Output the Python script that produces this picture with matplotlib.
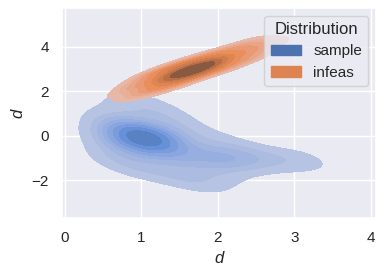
import matplotlib
matplotlib.use("Agg")
import matplotlib.pyplot as plt
import pandas as pd
import seaborn as sns

# points, one list per group
SAMPLE_X = [0.8, 0.9, 1.0, 1.1, 1.2, 1.3, 0.8, 0.9, 1.0, 1.1, 1.2, 1.3,
            0.8, 0.9, 1.0, 1.1, 1.2, 1.3, 0.9, 1.1, 1.0, 1.0, 1.05, 0.95,
            0.95, 1.05, 1.0, 1.1,
            0.6, 0.7, 0.9, 1.1, 0.8, 1.2, 1.4, 0.6, 1.5,
            0.55, 0.6, 0.7, 0.8, 0.9, 1.2, 1.3, 1.1,
            1.5, 1.6, 1.7, 1.8, 1.9, 2.0, 2.1, 2.15, 2.2, 2.3, 2.4, 2.6, 2.8, 3.0, 3.15,
            1.6, 1.9, 1.4, 1.7, 1.8, 2.1, 1.9, 2.3]
SAMPLE_Y = [-0.45, -0.45, -0.45, -0.45, -0.45, -0.45, -0.15, -0.15, -0.15, -0.15, -0.15, -0.15,
            0.15, 0.15, 0.15, 0.15, 0.15, 0.15, 0.35, 0.35, -0.6, 0.0, -0.1, 0.05,
            -0.2, 0.0, -0.3, -0.05,
            0.8, 1.3, 1.6, 1.4, 0.6, 0.8, 0.9, 0.3, 0.4,
            -0.2, -0.8, -1.2, -0.9, -1.5, -1.7, -0.8, -1.0,
            -1.0, -1.3, -0.8, -1.1, -0.9, -1.2, -1.0, -0.95, -1.05, -0.8, -1.2, -1.0, -1.2, -1.0, -1.1,
            -2.0, -1.9, -1.6, -0.4, -2.2, -1.7, 0.0, -0.5]
INFEAS_X = [1.0, 1.0, 1.15, 1.15, 1.3, 1.3, 1.3, 1.45, 1.45, 1.45, 1.55, 1.55,
            1.65, 1.65, 1.65, 1.75, 1.75, 1.85, 1.85, 1.85, 2.0, 2.0, 2.15, 2.15,
            2.3, 2.3, 2.45, 2.45, 2.6, 0.9,
            1.5, 1.6, 1.7, 1.8, 1.9, 1.55, 1.75]
INFEAS_Y = [1.94, 2.44, 2.2, 2.8, 2.12, 2.57, 2.92, 2.43, 2.83, 3.18, 2.69, 3.09,
            2.55, 2.95, 3.35, 2.86, 3.21, 2.82, 3.22, 3.57, 3.09, 3.64, 3.1, 3.6,
            3.57, 4.07, 3.53, 4.03, 4.0, 2.15,
            2.8, 2.9, 3.0, 3.1, 3.2, 2.85, 3.0]
GROUPS = ["sample", "infeas"]

sns.set_theme()
plt.rcParams["font.family"] = ["Liberation Sans", "DejaVu Sans"]

df = pd.DataFrame({
    "x": SAMPLE_X + INFEAS_X,
    "y": SAMPLE_Y + INFEAS_Y,
    "Distribution": [GROUPS[0]] * len(SAMPLE_X) + [GROUPS[1]] * len(INFEAS_X),
})

fig, ax = plt.subplots(figsize=(3.85, 2.75), dpi=100)
fig.subplots_adjust(left=62 / 385, right=376 / 385, top=1 - 8 / 275, bottom=1 - 218 / 275)
sns.kdeplot(data=df, x="x", y="y", hue="Distribution", hue_order=GROUPS, fill=True,
            bw_adjust=1.0, ax=ax)
ax.set_xlim(-0.04, 4.07)
ax.set_ylim(-3.7, 5.75)
ax.set_xticks([0, 1, 2, 3, 4])
ax.set_yticks([-2, 0, 2, 4])
ax.set_xlabel("d", style="italic")
ax.set_ylabel("d", style="italic")
fig.savefig("out.png", dpi=100)
